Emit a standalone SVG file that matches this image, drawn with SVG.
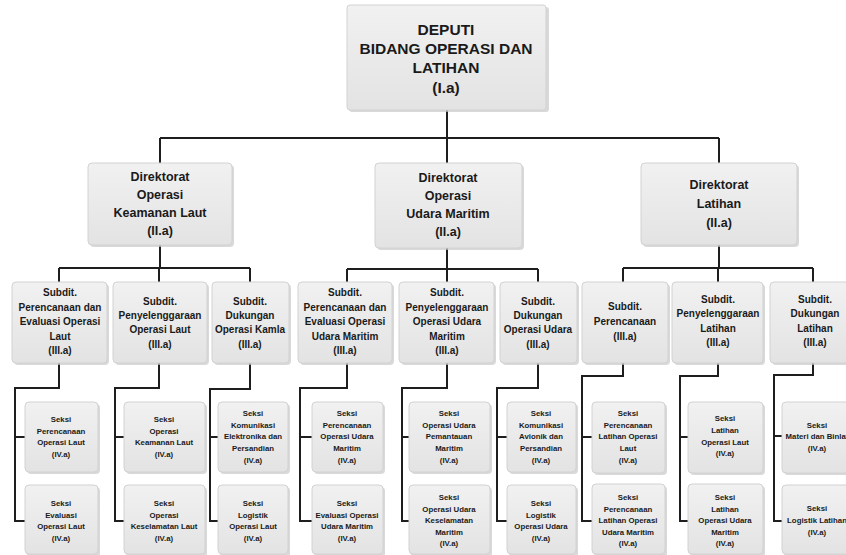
<svg xmlns="http://www.w3.org/2000/svg" width="846" height="555" viewBox="0 0 846 555">
<defs>
<linearGradient id="g" x1="0" y1="0" x2="0" y2="1">
<stop offset="0" stop-color="#f1f1f1"/>
<stop offset="1" stop-color="#e3e3e3"/>
</linearGradient>
</defs>
<style>
.bx{fill:url(#g);stroke:#d2d2d2;stroke-width:1}
.sh{fill:#c9c9c9;opacity:0.7}
text{font-family:"Liberation Sans",Arial,sans-serif;font-weight:bold;fill:#1a1a1a;text-anchor:middle}
.t1{font-size:15.5px}
.t2{font-size:12.5px}
.t3{font-size:10px}
.t4{font-size:7.8px}
.ln{fill:none;stroke:#1e1e1e;stroke-width:2}
</style>
<rect width="846" height="555" fill="#ffffff"/>

<g id="connectors">
<path class="ln" d="M447,110 V138 M160,138 H719 M160,138 V163 M447,138 V163 M719,138 V163"/>
<path class="ln" d="M160,245 V268 M59,268 H250 M59,268 V282 M159,268 V282 M250,268 V282"/>
<path class="ln" d="M447,248 V269 M347,269 H538 M347,269 V282 M447,269 V282 M538,269 V282"/>
<path class="ln" d="M719,245 V268 M623,268 H813 M623,268 V282 M718,268 V282 M813,268 V282"/>
<path class="ln" d="M59,363 V388 H15 V521 H25 M15,437 H25"/>
<path class="ln" d="M159,363 V388 H115 V521 H124 M115,437 H124"/>
<path class="ln" d="M250,363 V389 H210 V521 H218 M210,437 H218"/>
<path class="ln" d="M347,363 V388 H300 V521 H312 M300,437 H312"/>
<path class="ln" d="M447,363 V388 H402 V521 H409 M402,437 H409"/>
<path class="ln" d="M538,363 V388 H497 V521 H507 M497,437 H507"/>
<path class="ln" d="M623,363 V376 H582 V521 H592 M582,437 H592"/>
<path class="ln" d="M718,363 V376 H680 V521 H688 M680,437 H688"/>
<path class="ln" d="M813,363 V375 H774 V521 H782 M774,436 H782"/>
</g>

<g id="deputi">
<rect class="sh" x="349" y="7" width="200" height="105" rx="3"/>
<rect class="bx" x="347" y="5" width="199" height="105" rx="3"/>
<text class="t1" x="446" y="35">DEPUTI</text>
<text class="t1" x="446" y="54">BIDANG OPERASI DAN</text>
<text class="t1" x="446" y="73">LATIHAN</text>
<text class="t1" x="446" y="93">(I.a)</text>
</g>

<g id="dir-kamla">
<rect class="sh" x="90" y="165" width="144" height="82" rx="4"/>
<rect class="bx" x="88" y="163" width="144" height="82" rx="4"/>
<text class="t2" x="160" y="181">Direktorat</text>
<text class="t2" x="160" y="199">Operasi</text>
<text class="t2" x="160" y="217">Keamanan Laut</text>
<text class="t2" x="160" y="235">(II.a)</text>
</g>

<g id="dir-udara">
<rect class="sh" x="377" y="165" width="147" height="85" rx="4"/>
<rect class="bx" x="375" y="163" width="147" height="85" rx="4"/>
<text class="t2" x="448" y="182">Direktorat</text>
<text class="t2" x="448" y="200">Operasi</text>
<text class="t2" x="448" y="218">Udara Maritim</text>
<text class="t2" x="448" y="236">(II.a)</text>
</g>

<g id="dir-latihan">
<rect class="sh" x="643" y="165" width="156" height="82" rx="4"/>
<rect class="bx" x="641" y="163" width="156" height="82" rx="4"/>
<text class="t2" x="719" y="189">Direktorat</text>
<text class="t2" x="719" y="208">Latihan</text>
<text class="t2" x="719" y="227">(II.a)</text>
</g>

<g id="sub1">
<rect class="sh" x="14" y="284" width="95" height="81" rx="4"/>
<rect class="bx" x="12" y="282" width="95" height="81" rx="4"/>
<text class="t3" x="60" y="296">Subdit.</text>
<text class="t3" x="60" y="311">Perencanaan dan</text>
<text class="t3" x="60" y="325">Evaluasi Operasi</text>
<text class="t3" x="60" y="340">Laut</text>
<text class="t3" x="60" y="354">(III.a)</text>
</g>
<g id="sub2">
<rect class="sh" x="115" y="284" width="94" height="81" rx="4"/>
<rect class="bx" x="113" y="282" width="94" height="81" rx="4"/>
<text class="t3" x="160" y="305">Subdit.</text>
<text class="t3" x="160" y="319">Penyelenggaraan</text>
<text class="t3" x="160" y="333">Operasi Laut</text>
<text class="t3" x="160" y="348">(III.a)</text>
</g>
<g id="sub3">
<rect class="sh" x="214" y="284" width="77" height="81" rx="4"/>
<rect class="bx" x="212" y="282" width="77" height="81" rx="4"/>
<text class="t3" x="250" y="305">Subdit.</text>
<text class="t3" x="250" y="319">Dukungan</text>
<text class="t3" x="250" y="333">Operasi Kamla</text>
<text class="t3" x="250" y="348">(III.a)</text>
</g>
<g id="sub4">
<rect class="sh" x="300" y="284" width="94" height="81" rx="4"/>
<rect class="bx" x="298" y="282" width="94" height="81" rx="4"/>
<text class="t3" x="345" y="296">Subdit.</text>
<text class="t3" x="345" y="311">Perencanaan dan</text>
<text class="t3" x="345" y="325">Evaluasi Operasi</text>
<text class="t3" x="345" y="340">Udara Maritim</text>
<text class="t3" x="345" y="354">(III.a)</text>
</g>
<g id="sub5">
<rect class="sh" x="401" y="284" width="95" height="81" rx="4"/>
<rect class="bx" x="399" y="282" width="95" height="81" rx="4"/>
<text class="t3" x="447" y="296">Subdit.</text>
<text class="t3" x="447" y="311">Penyelenggaraan</text>
<text class="t3" x="447" y="325">Operasi Udara</text>
<text class="t3" x="447" y="340">Maritim</text>
<text class="t3" x="447" y="354">(III.a)</text>
</g>
<g id="sub6">
<rect class="sh" x="502" y="284" width="77" height="81" rx="4"/>
<rect class="bx" x="500" y="282" width="77" height="81" rx="4"/>
<text class="t3" x="538" y="305">Subdit.</text>
<text class="t3" x="538" y="319">Dukungan</text>
<text class="t3" x="538" y="333">Operasi Udara</text>
<text class="t3" x="538" y="348">(III.a)</text>
</g>
<g id="sub7">
<rect class="sh" x="584" y="284" width="86" height="81" rx="4"/>
<rect class="bx" x="582" y="282" width="86" height="81" rx="4"/>
<text class="t3" x="625" y="310">Subdit.</text>
<text class="t3" x="625" y="325">Perencanaan</text>
<text class="t3" x="625" y="340">(III.a)</text>
</g>
<g id="sub8">
<rect class="sh" x="674" y="284" width="91" height="81" rx="4"/>
<rect class="bx" x="672" y="282" width="91" height="81" rx="4"/>
<text class="t3" x="718" y="303">Subdit.</text>
<text class="t3" x="718" y="317">Penyelenggaraan</text>
<text class="t3" x="718" y="332">Latihan</text>
<text class="t3" x="718" y="346">(III.a)</text>
</g>
<g id="sub9">
<rect class="sh" x="772" y="284" width="90" height="81" rx="4"/>
<rect class="bx" x="770" y="282" width="90" height="81" rx="4"/>
<text class="t3" x="815" y="303">Subdit.</text>
<text class="t3" x="815" y="317">Dukungan</text>
<text class="t3" x="815" y="332">Latihan</text>
<text class="t3" x="815" y="346">(III.a)</text>
</g>

<g id="seksi-a1">
<rect class="sh" x="27" y="404" width="73" height="70" rx="4"/>
<rect class="bx" x="25" y="402" width="73" height="70" rx="4"/>
<text class="t4" x="61" y="422">Seksi</text>
<text class="t4" x="61" y="434">Perencanaan</text>
<text class="t4" x="61" y="445">Operasi Laut</text>
<text class="t4" x="61" y="457">(IV.a)</text>
</g>
<g id="seksi-a2">
<rect class="sh" x="27" y="487" width="73" height="70" rx="4"/>
<rect class="bx" x="25" y="485" width="73" height="69" rx="4"/>
<text class="t4" x="61" y="506">Seksi</text>
<text class="t4" x="61" y="518">Evaluasi</text>
<text class="t4" x="61" y="529">Operasi Laut</text>
<text class="t4" x="61" y="541">(IV.a)</text>
</g>
<g id="seksi-b1">
<rect class="sh" x="126" y="404" width="81" height="70" rx="4"/>
<rect class="bx" x="124" y="402" width="81" height="70" rx="4"/>
<text class="t4" x="164" y="422">Seksi</text>
<text class="t4" x="164" y="434">Operasi</text>
<text class="t4" x="164" y="445">Keamanan Laut</text>
<text class="t4" x="164" y="457">(IV.a)</text>
</g>
<g id="seksi-b2">
<rect class="sh" x="126" y="487" width="81" height="70" rx="4"/>
<rect class="bx" x="124" y="485" width="81" height="69" rx="4"/>
<text class="t4" x="164" y="506">Seksi</text>
<text class="t4" x="164" y="518">Operasi</text>
<text class="t4" x="164" y="529">Keselamatan Laut</text>
<text class="t4" x="164" y="541">(IV.a)</text>
</g>
<g id="seksi-c1">
<rect class="sh" x="220" y="404" width="70" height="70" rx="4"/>
<rect class="bx" x="218" y="402" width="70" height="70" rx="4"/>
<text class="t4" x="253" y="416">Seksi</text>
<text class="t4" x="253" y="428">Komunikasi</text>
<text class="t4" x="253" y="439">Elektronika dan</text>
<text class="t4" x="253" y="451">Persandian</text>
<text class="t4" x="253" y="463">(IV.a)</text>
</g>
<g id="seksi-c2">
<rect class="sh" x="220" y="487" width="70" height="70" rx="4"/>
<rect class="bx" x="218" y="485" width="70" height="69" rx="4"/>
<text class="t4" x="253" y="506">Seksi</text>
<text class="t4" x="253" y="518">Logistik</text>
<text class="t4" x="253" y="529">Operasi Laut</text>
<text class="t4" x="253" y="541">(IV.a)</text>
</g>
<g id="seksi-d1">
<rect class="sh" x="314" y="404" width="71" height="70" rx="4"/>
<rect class="bx" x="312" y="402" width="71" height="70" rx="4"/>
<text class="t4" x="347" y="416">Seksi</text>
<text class="t4" x="347" y="428">Perencanaan</text>
<text class="t4" x="347" y="439">Operasi Udara</text>
<text class="t4" x="347" y="451">Maritim</text>
<text class="t4" x="347" y="463">(IV.a)</text>
</g>
<g id="seksi-d2">
<rect class="sh" x="314" y="487" width="71" height="70" rx="4"/>
<rect class="bx" x="312" y="485" width="71" height="69" rx="4"/>
<text class="t4" x="347" y="506">Seksi</text>
<text class="t4" x="347" y="518">Evaluasi Operasi</text>
<text class="t4" x="347" y="529">Udara Maritim</text>
<text class="t4" x="347" y="541">(IV.a)</text>
</g>
<g id="seksi-e1">
<rect class="sh" x="411" y="404" width="81" height="70" rx="4"/>
<rect class="bx" x="409" y="402" width="81" height="70" rx="4"/>
<text class="t4" x="449" y="416">Seksi</text>
<text class="t4" x="449" y="428">Operasi Udara</text>
<text class="t4" x="449" y="439">Pemantauan</text>
<text class="t4" x="449" y="451">Maritim</text>
<text class="t4" x="449" y="463">(IV.a)</text>
</g>
<g id="seksi-e2">
<rect class="sh" x="411" y="487" width="81" height="70" rx="4"/>
<rect class="bx" x="409" y="485" width="81" height="69" rx="4"/>
<text class="t4" x="449" y="500">Seksi</text>
<text class="t4" x="449" y="512">Operasi Udara</text>
<text class="t4" x="449" y="523">Keselamatan</text>
<text class="t4" x="449" y="535">Maritim</text>
<text class="t4" x="449" y="546">(IV.a)</text>
</g>
<g id="seksi-f1">
<rect class="sh" x="509" y="404" width="69" height="70" rx="4"/>
<rect class="bx" x="507" y="402" width="69" height="70" rx="4"/>
<text class="t4" x="541" y="416">Seksi</text>
<text class="t4" x="541" y="428">Komunikasi</text>
<text class="t4" x="541" y="439">Avionik dan</text>
<text class="t4" x="541" y="451">Persandian</text>
<text class="t4" x="541" y="463">(IV.a)</text>
</g>
<g id="seksi-f2">
<rect class="sh" x="509" y="487" width="69" height="70" rx="4"/>
<rect class="bx" x="507" y="485" width="69" height="69" rx="4"/>
<text class="t4" x="541" y="506">Seksi</text>
<text class="t4" x="541" y="518">Logistik</text>
<text class="t4" x="541" y="529">Operasi Udara</text>
<text class="t4" x="541" y="541">(IV.a)</text>
</g>
<g id="seksi-g1">
<rect class="sh" x="594" y="404" width="73" height="71" rx="4"/>
<rect class="bx" x="592" y="402" width="73" height="71" rx="4"/>
<text class="t4" x="628" y="416">Seksi</text>
<text class="t4" x="628" y="428">Perencanaan</text>
<text class="t4" x="628" y="439">Latihan Operasi</text>
<text class="t4" x="628" y="451">Laut</text>
<text class="t4" x="628" y="463">(IV.a)</text>
</g>
<g id="seksi-g2">
<rect class="sh" x="594" y="486" width="73" height="71" rx="4"/>
<rect class="bx" x="592" y="484" width="73" height="70" rx="4"/>
<text class="t4" x="628" y="500">Seksi</text>
<text class="t4" x="628" y="512">Perencanaan</text>
<text class="t4" x="628" y="523">Latihan Operasi</text>
<text class="t4" x="628" y="535">Udara Maritim</text>
<text class="t4" x="628" y="546">(IV.a)</text>
</g>
<g id="seksi-h1">
<rect class="sh" x="690" y="404" width="75" height="71" rx="4"/>
<rect class="bx" x="688" y="402" width="75" height="71" rx="4"/>
<text class="t4" x="725" y="421">Seksi</text>
<text class="t4" x="725" y="433">Latihan</text>
<text class="t4" x="725" y="445">Operasi Laut</text>
<text class="t4" x="725" y="456">(IV.a)</text>
</g>
<g id="seksi-h2">
<rect class="sh" x="690" y="486" width="75" height="71" rx="4"/>
<rect class="bx" x="688" y="484" width="75" height="70" rx="4"/>
<text class="t4" x="725" y="500">Seksi</text>
<text class="t4" x="725" y="512">Latihan</text>
<text class="t4" x="725" y="523">Operasi Udara</text>
<text class="t4" x="725" y="535">Maritim</text>
<text class="t4" x="725" y="546">(IV.a)</text>
</g>
<g id="seksi-i1">
<rect class="sh" x="784" y="404" width="72" height="71" rx="4"/>
<rect class="bx" x="782" y="402" width="72" height="71" rx="4"/>
<text class="t4" x="817" y="428">Seksi</text>
<text class="t4" x="817" y="439">Materi dan Binlat</text>
<text class="t4" x="817" y="451">(IV.a)</text>
</g>
<g id="seksi-i2">
<rect class="sh" x="784" y="487" width="72" height="70" rx="4"/>
<rect class="bx" x="782" y="485" width="72" height="69" rx="4"/>
<text class="t4" x="817" y="511">Seksi</text>
<text class="t4" x="817" y="523">Logistik Latihan</text>
<text class="t4" x="817" y="535">(IV.a)</text>
</g>
</svg>
